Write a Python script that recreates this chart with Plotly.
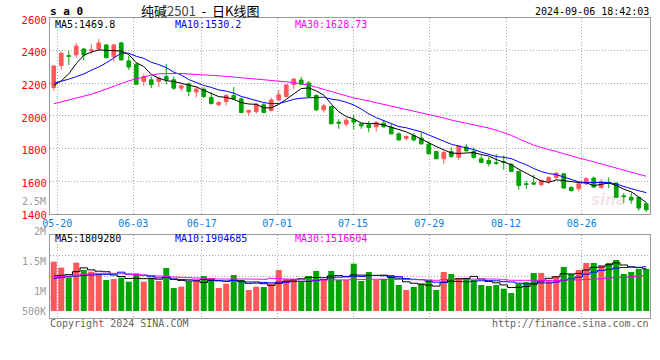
import numpy as np
import plotly.graph_objects as go

# ---------------- data ----------------
x_labels = ["05-20", "06-03", "06-17", "07-01", "07-15", "07-29", "08-12", "08-26"]
price_ticks = [1400, 1600, 1800, 2000, 2200, 2400, 2600]

open_ = [2174, 2308, 2369, 2374, 2410, 2400, 2410, 2435, 2363, 2447,
         2337, 2317, 2211, 2221, 2211, 2241, 2221, 2170, 2196, 2147,
         2164, 2113, 2068, 2088, 2125, 2104, 2023, 2027, 2068, 2033,
         2098, 2119, 2192, 2220, 2202, 2125, 2037, 2057, 1962, 1950,
         1976, 1951, 1945, 1933, 1955, 1931, 1890, 1862, 1880, 1864,
         1827, 1782, 1737, 1782, 1746, 1809, 1782, 1737, 1727, 1713,
         1719, 1704, 1660, 1584, 1590, 1578, 1598, 1623, 1645, 1562,
         1554, 1584, 1619, 1562, 1590, 1588, 1510, 1502, 1501, 1462]
high = [2310, 2394, 2398, 2447, 2414, 2439, 2471, 2439, 2439, 2455,
        2369, 2323, 2255, 2241, 2241, 2319, 2241, 2194, 2206, 2180,
        2176, 2146, 2092, 2133, 2178, 2112, 2037, 2078, 2078, 2112,
        2159, 2194, 2231, 2239, 2214, 2133, 2072, 2062, 1980, 1988,
        2006, 1955, 1969, 1965, 1976, 1949, 1900, 1880, 1894, 1898,
        1843, 1784, 1786, 1807, 1819, 1827, 1807, 1758, 1748, 1766,
        1757, 1710, 1664, 1602, 1639, 1609, 1629, 1655, 1649, 1568,
        1602, 1623, 1629, 1613, 1623, 1592, 1527, 1531, 1502, 1470]
low = [2154, 2282, 2312, 2357, 2339, 2378, 2400, 2353, 2333, 2339,
       2282, 2190, 2184, 2170, 2176, 2194, 2160, 2150, 2120, 2113,
       2109, 2068, 2058, 2064, 2102, 2017, 2000, 2013, 2017, 2027,
       2088, 2115, 2163, 2190, 2112, 2031, 2021, 1948, 1921, 1935,
       1915, 1921, 1900, 1904, 1929, 1888, 1847, 1849, 1843, 1823,
       1762, 1735, 1707, 1741, 1731, 1782, 1737, 1711, 1691, 1701,
       1670, 1655, 1548, 1554, 1578, 1568, 1582, 1609, 1552, 1537,
       1537, 1574, 1558, 1554, 1558, 1499, 1466, 1462, 1419, 1411]
close = [2306, 2384, 2366, 2428, 2374, 2406, 2447, 2357, 2435, 2343,
         2300, 2194, 2241, 2192, 2231, 2221, 2170, 2184, 2150, 2164,
         2119, 2076, 2082, 2125, 2104, 2021, 2033, 2072, 2021, 2098,
         2129, 2190, 2226, 2194, 2119, 2037, 2062, 1952, 1956, 1974,
         1962, 1939, 1929, 1961, 1933, 1890, 1853, 1874, 1853, 1829,
         1768, 1737, 1776, 1752, 1817, 1786, 1746, 1715, 1707, 1709,
         1715, 1660, 1574, 1580, 1582, 1605, 1623, 1649, 1558, 1542,
         1584, 1615, 1564, 1598, 1586, 1501, 1505, 1484, 1435, 1425]
volume = [2116, 1859, 1444, 2074, 1759, 1687, 1573, 1330, 1373, 1430,
          1258, 1616, 1258, 1401, 1287, 1845, 987, 1044, 1258, 1330,
          1502, 1401, 987, 1173, 1544, 1330, 901, 1044, 1030, 1187,
          1759, 1373, 1330, 1258, 1502, 1716, 1330, 1716, 1330, 1330,
          2031, 1287, 1673, 1330, 1373, 1544, 1115, 901, 1030, 1173,
          1330, 901, 1673, 1587, 1416, 1416, 1330, 1115, 1073, 1115,
          958, 772, 1173, 1244, 1630, 1630, 1330, 1502, 1888, 1587,
          1759, 2059, 2059, 1973, 2059, 2188, 1587, 1673, 1802, 1802]  # thousands of lots

# moving-average values read off the chart where the window is not yet full
ma5_head = [2186, 2215, 2258, 2320]
ma10_head = [2200, 2211, 2225, 2241, 2257, 2280, 2300, 2325, 2355]
ma30_head = [2074, 2085, 2096, 2107, 2119, 2133, 2148, 2166, 2184, 2198,
             2215, 2228, 2240, 2250, 2258, 2260, 2260, 2260, 2257, 2255,
             2252, 2249, 2246, 2242, 2238, 2234, 2230, 2227, 2224]
vma5_head = [1502, 1530, 1559, 1687]
vma10_head = [1401, 1430, 1473, 1502, 1530, 1544, 1559, 1573, 1587]
vma30_head = [1473, 1487, 1502, 1537, 1573, 1595, 1616, 1616, 1616, 1602,
              1587, 1566, 1544, 1523, 1502, 1480, 1459, 1445, 1430, 1416,
              1401, 1387, 1373, 1373, 1373, 1373, 1373, 1366, 1359]

ma_text = ["MA5:1469.8", "MA10:1530.2", "MA30:1628.73"]
vma_text = ["MA5:1809280", "MA10:1904685", "MA30:1516604"]
vol_labels = ["2.5M", "2M", "1.5M", "1M", "500K"]

# ---------------- helpers ----------------
def moving(values, n, head):
    v = np.asarray(values, dtype=float)
    out = np.convolve(v, np.ones(n) / n, mode="valid")
    return list(head) + list(out)

idx = list(range(len(close)))
vol = [v * 1000 for v in volume]
ma5 = moving(close, 5, ma5_head)
ma10 = moving(close, 10, ma10_head)
ma30 = moving(close, 30, ma30_head)
vma5 = [v * 1000 for v in moving(volume, 5, vma5_head)]
vma10 = [v * 1000 for v in moving(volume, 10, vma10_head)]
vma30 = [v * 1000 for v in moving(volume, 30, vma30_head)]

RED = "#ff5858"
GREEN = "#00a400"
GRID = "#a8a8a8"
BORDER = "#9a9a9a"
MONO = "DejaVu Sans Mono"

W, H = 660, 360
L, R, T, B = 50, 10, 18, 42
PW, PH = W - L - R, H - T - B

def xp(px):
    return (px - L) / PW

def yp(py):
    return (H - B - py) / PH

main_dom = [yp(213.8), 1.0]
vol_dom = [0.0, yp(235)]
vol_range = [-300300, 3260400]
vol_grid = [vol_range[0] + (vol_range[1] - vol_range[0]) * k / 4 for k in (1, 2, 3)]
tick_pos = [0.47, 10.6, 19.73, 29.8, 39.9, 50.07, 60.3, 70.4]

fig = go.Figure()
fig.add_trace(go.Candlestick(
    x=idx, open=open_, high=high, low=low, close=close,
    increasing=dict(line=dict(color=RED, width=1), fillcolor=RED),
    decreasing=dict(line=dict(color=GREEN, width=1), fillcolor=GREEN),
    whiskerwidth=0, hoverinfo="skip", xaxis="x", yaxis="y"))
for series, col in ((ma5, "#000000"), (ma10, "#0000ff"), (ma30, "#ff00ff")):
    fig.add_trace(go.Scatter(x=idx, y=series, mode="lines",
                             line=dict(color=col, width=1), hoverinfo="skip",
                             xaxis="x", yaxis="y"))

bar_cols = [RED if c > o else GREEN for o, c in zip(open_, close)]
fig.add_trace(go.Bar(x=idx, y=vol, marker=dict(color=bar_cols, line=dict(width=0)),
                     width=0.8, hoverinfo="skip", xaxis="x2", yaxis="y2"))
for series, col in ((vma5, "#000000"), (vma10, "#0000ff"), (vma30, "#ff00ff")):
    fig.add_trace(go.Scatter(x=idx, y=series, mode="lines",
                             line=dict(color=col, width=1, shape="hvh"),
                             hoverinfo="skip", xaxis="x2", yaxis="y2"))

axis_common = dict(showline=True, mirror=True, linecolor=BORDER, linewidth=1,
                   showgrid=True, gridcolor=GRID, griddash="1px,2px", gridwidth=1,
                   zeroline=False, ticks="", fixedrange=True)

fig.update_layout(
    width=W, height=H, margin=dict(l=L, r=R, t=T, b=B),
    paper_bgcolor="white", plot_bgcolor="white", showlegend=False,
    boxgap=0.3, bargap=0.2,
    font=dict(family=MONO, size=10, color="#000"),
    xaxis=dict(domain=[0, 1], range=[-0.5, 79.5], anchor="y",
               tickmode="array", tickvals=tick_pos, ticktext=x_labels,
               tickfont=dict(family=MONO, size=10, color="#0a7fe0"),
               rangeslider=dict(visible=False), **axis_common),
    yaxis=dict(domain=main_dom, range=[1400, 2600], anchor="x",
               tickmode="array", tickvals=price_ticks,
               ticktext=[str(t) for t in price_ticks],
               tickfont=dict(family=MONO, size=10.5, color="#ff0000"),
               ticklabelshift=2, **axis_common),
    xaxis2=dict(domain=[0, 1], range=[-0.5, 79.5], anchor="y2", matches="x",
                tickmode="array", tickvals=tick_pos, showticklabels=False,
                **axis_common),
    yaxis2=dict(domain=vol_dom, range=vol_range, anchor="x2",
                tickmode="array", tickvals=vol_grid, showticklabels=False,
                **axis_common),
)

ann = []
def text(px, py, s, color="#000", size=10, xanchor="left", family=MONO, bold=False):
    if bold:
        s = "<b>" + s + "</b>"
    ann.append(dict(x=xp(px), y=yp(py), xref="paper", yref="paper", text=s,
                    showarrow=False, xanchor=xanchor, yanchor="middle",
                    font=dict(family=family, size=size, color=color),
                    borderpad=0))

text(49, 11.5, "s a 0", size=11, bold=True)
text(200, 10.5, "纯碱<span style='color:#444'>2501</span>&nbsp; -&nbsp; 日K线图", size=13,
     xanchor="center", family="Noto Sans CJK SC")
text(650, 12, "2024-09-06 18:42:03", xanchor="right")
for px, s, col in zip((54, 174, 294), ma_text, ("#000000", "#0000ff", "#ff00ff")):
    text(px, 24, s, color=col)
for px, s, col in zip((54, 174, 294), vma_text, ("#000000", "#0000ff", "#ff00ff")):
    text(px, 238.5, s, color=col)
for py, s in zip((201, 231, 261, 291, 311), vol_labels):
    text(47, py, s, color="#999999", xanchor="right")
text(49, 323.5, "Copyright 2024 SINA.COM", color="#666666")
text(650, 323.5, "http://finance.sina.com.cn", color="#666666", xanchor="right")
ann.append(dict(x=xp(628), y=yp(200), xref="paper", yref="paper",
                text="<b><i>sina</i></b>", showarrow=False,
                font=dict(family="DejaVu Sans", size=15, color="rgba(200,150,150,0.25)")))
fig.update_layout(annotations=ann)

fig.write_html("out.html", config={"displayModeBar": False},
               post_script="document.body.style.margin='0';document.body.style.padding='0';")
